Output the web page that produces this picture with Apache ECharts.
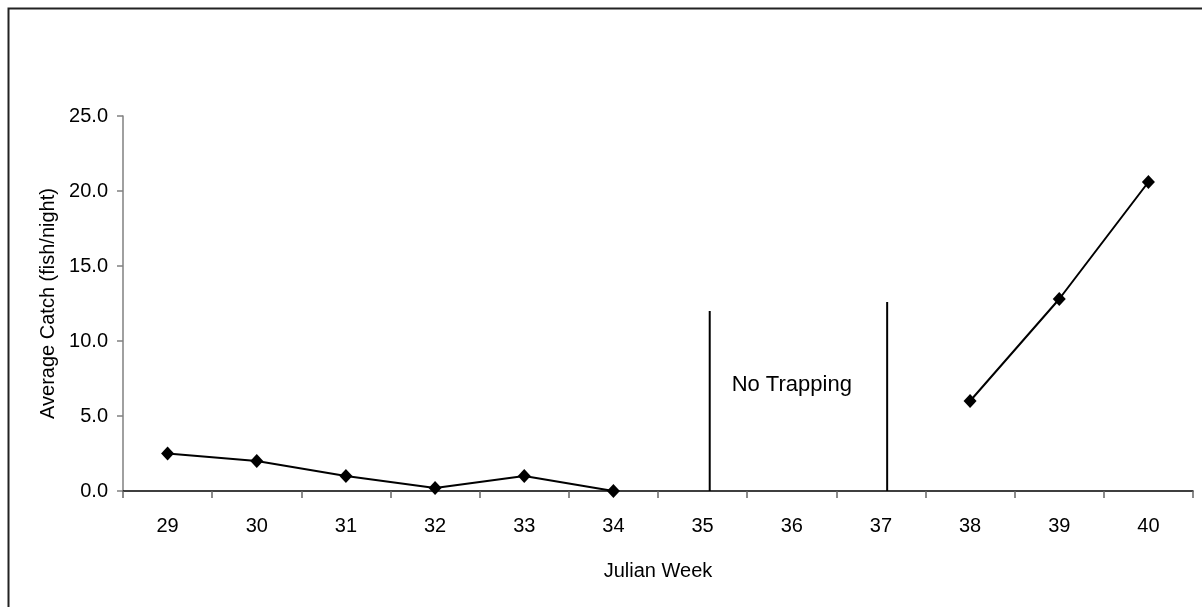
<!DOCTYPE html>
<html>
<head>
<meta charset="utf-8">
<script src="https://cdn.jsdelivr.net/npm/echarts@6/dist/echarts.min.js"></script>
<style>
html,body{margin:0;padding:0;background:#fff;}
#chart{width:1202px;height:607px;}
</style>
</head>
<body>
<div id="chart"></div>
<script>
const weeks = ['29','30','31','32','33','34','35','36','37','38','39','40'];
const avgCatch = [2.5, 2.0, 1.0, 0.2, 1.0, 0.0, null, null, null, 6.0, 12.8, 20.6];
const yTicks = [0, 5, 10, 15, 20, 25];
const noTrapStart = [[35.08, 0], [35.08, 12.0]];
const noTrapEnd = [[37.07, 0], [37.07, 12.6]];
const noTrapLabel = [[36.0, 7.1]];
const noTrapText = 'No Trapping';

const FONT = "'Liberation Sans', Arial, sans-serif";
const chart = echarts.init(document.getElementById('chart'), null, {renderer: 'canvas'});
chart.setOption({
  animation: false,
  backgroundColor: '#fff',
  graphic: [{
    type: 'rect', left: 6, top: 6, z: 100,
    shape: {x: 0, y: 0, width: 1300, height: 700},
    style: {fill: 'none', stroke: '#222', lineWidth: 2}
  }],
  grid: {left: 123, right: 9, top: 116, bottom: 116, containLabel: false},
  xAxis: [{
    type: 'category',
    data: weeks,
    boundaryGap: true,
    name: 'Julian Week',
    nameLocation: 'middle',
    nameGap: 70,
    nameTextStyle: {fontFamily: FONT, fontSize: 20, color: '#000'},
    axisLine: {lineStyle: {color: '#000', width: 1.5}},
    axisTick: {show: true, length: 7, inside: false, lineStyle: {color: '#666', width: 1.5}},
    axisLabel: {fontFamily: FONT, fontSize: 20, color: '#000', margin: 25, interval: 0},
    splitLine: {show: false}
  }, {
    type: 'value', show: false, min: 28.5, max: 40.5
  }],
  yAxis: {
    type: 'value',
    min: yTicks[0], max: yTicks[yTicks.length - 1], interval: 5,
    name: 'Average Catch (fish/night)',
    nameLocation: 'middle',
    nameGap: 64,
    nameRotate: 90,
    nameTextStyle: {fontFamily: FONT, fontSize: 20, color: '#000'},
    axisLine: {show: true, lineStyle: {color: '#808080', width: 1.5}},
    axisTick: {show: true, length: 6, lineStyle: {color: '#808080', width: 1.5}},
    axisLabel: {fontFamily: FONT, fontSize: 20, color: '#000', margin: 15,
      formatter: v => v.toFixed(1)},
    splitLine: {show: false}
  },
  series: [{
    type: 'line',
    data: avgCatch,
    connectNulls: false,
    symbol: 'diamond',
    symbolSize: [13, 14],
    lineStyle: {color: '#000', width: 2},
    itemStyle: {color: '#000'},
    z: 5
  }, {
    type: 'line', xAxisIndex: 1, data: noTrapStart, symbol: 'none',
    lineStyle: {color: '#000', width: 2}
  }, {
    type: 'line', xAxisIndex: 1, data: noTrapEnd, symbol: 'none',
    lineStyle: {color: '#000', width: 2}
  }, {
    type: 'scatter', xAxisIndex: 1, data: noTrapLabel, symbolSize: 0,
    itemStyle: {opacity: 1, color: '#000'},
    label: {show: true, position: 'inside', formatter: noTrapText,
      fontFamily: FONT, fontSize: 22, color: '#000', textBorderWidth: 0}
  }]
});
</script>
</body>
</html>
